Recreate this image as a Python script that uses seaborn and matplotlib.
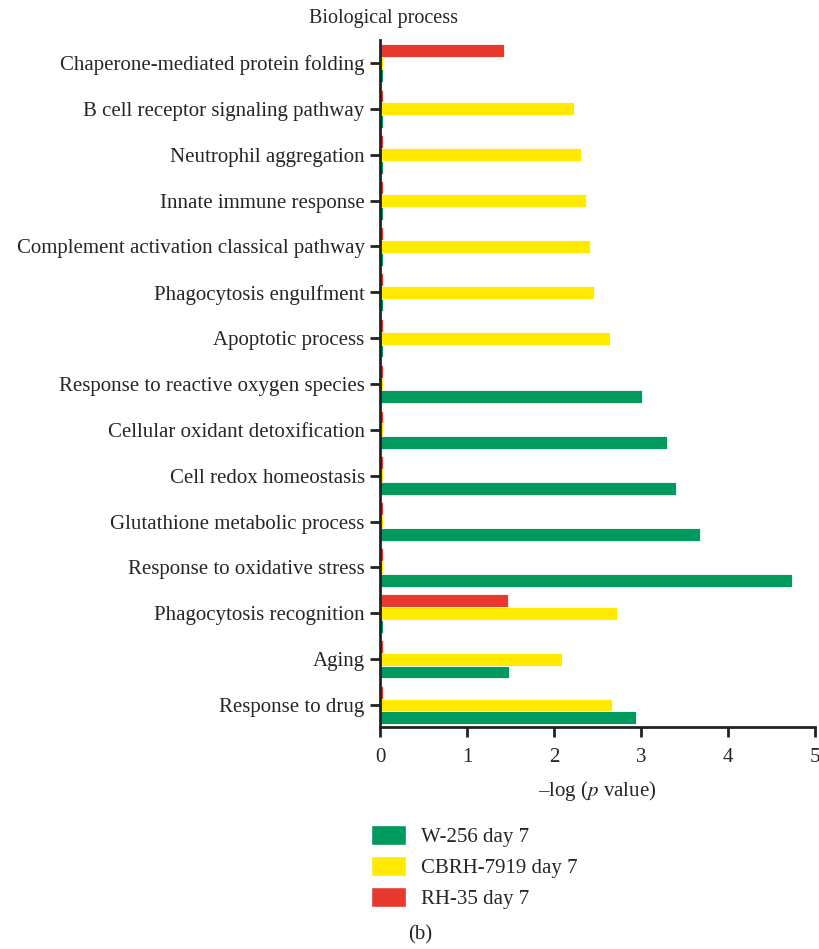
import numpy as np
import pandas as pd
import seaborn as sns
import matplotlib.pyplot as plt
from matplotlib.patches import Patch

# Data
categories = [
    'Chaperone-mediated protein folding',
    'B cell receptor signaling pathway',
    'Neutrophil aggregation',
    'Innate immune response',
    'Complement activation classical pathway',
    'Phagocytosis engulfment',
    'Apoptotic process',
    'Response to reactive oxygen species',
    'Cellular oxidant detoxification',
    'Cell redox homeostasis',
    'Glutathione metabolic process',
    'Response to oxidative stress',
    'Phagocytosis recognition',
    'Aging',
    'Response to drug',
]
rh35 = [1.42, 0.03, 0.03, 0.03, 0.03, 0.03, 0.03, 0.03, 0.03, 0.03, 0.03, 0.03, 1.47, 0.03, 0.03]
cbrh = [0.03, 2.23, 2.31, 2.37, 2.41, 2.46, 2.64, 0.03, 0.03, 0.03, 0.03, 0.03, 2.72, 2.09, 2.67]
w256 = [0.03, 0.03, 0.03, 0.03, 0.03, 0.03, 0.03, 3.01, 3.30, 3.40, 3.68, 4.74, 0.03, 1.48, 2.94]
series = ['RH-35 day 7', 'CBRH-7919 day 7', 'W-256 day 7']
colores = {'W-256 day 7': '#009a5e', 'CBRH-7919 day 7': '#ffea00', 'RH-35 day 7': '#e8392f'}

df = pd.DataFrame({
    'process': categories * 3,
    'value': rh35 + cbrh + w256,
    'group': [series[0]] * 15 + [series[1]] * 15 + [series[2]] * 15,
})

sns.set_style('ticks')
plt.rcParams['font.family'] = ['Liberation Serif', 'DejaVu Serif']
plt.rcParams['mathtext.fontset'] = 'stix'
fs = 15

fig = plt.figure(figsize=(8.2, 9.49), dpi=100)
ax = fig.add_axes([380 / 820, 1 - 727 / 949, 435 / 820, 687 / 949])

sns.barplot(data=df, y='process', x='value', hue='group', hue_order=series,
            palette=colores, saturation=1, orient='h', width=0.84,
            edgecolor='white', linewidth=0.6, legend=False, ax=ax)

ax.set_xlim(0, 5)
ax.set_ylim(14.48, -0.5)
ax.set_xticks(range(6))
ax.set_xlabel('–log ($\\it{p}$ value)', fontsize=fs, labelpad=9)
ax.set_ylabel('')
ax.tick_params(axis='both', labelsize=fs, width=2, length=7, color='#222222')
ax.tick_params(axis='y', pad=4)
ax.tick_params(axis='x', pad=8)
for s in ['top', 'right']:
    ax.spines[s].set_visible(False)
for s in ['left', 'bottom']:
    ax.spines[s].set_linewidth(2)
    ax.spines[s].set_color('#222222')

fig.text(384 / 820, 1 - 18 / 949, 'Biological process', ha='center', va='center', fontsize=14.5)

handles = [Patch(facecolor=colores[k], label=k) for k in ['W-256 day 7', 'CBRH-7919 day 7', 'RH-35 day 7']]
fig.legend(handles=handles, loc='upper left', bbox_to_anchor=(371 / 820, 1 - 825 / 949),
           frameon=False, fontsize=fs, handlelength=1.68, handleheight=1.1,
           labelspacing=0.42, handletextpad=0.72, borderpad=0, borderaxespad=0)

fig.text(420 / 820, 1 - 935 / 949, '(b)', ha='center', va='center', fontsize=fs)

plt.savefig('out.png', dpi=100)
